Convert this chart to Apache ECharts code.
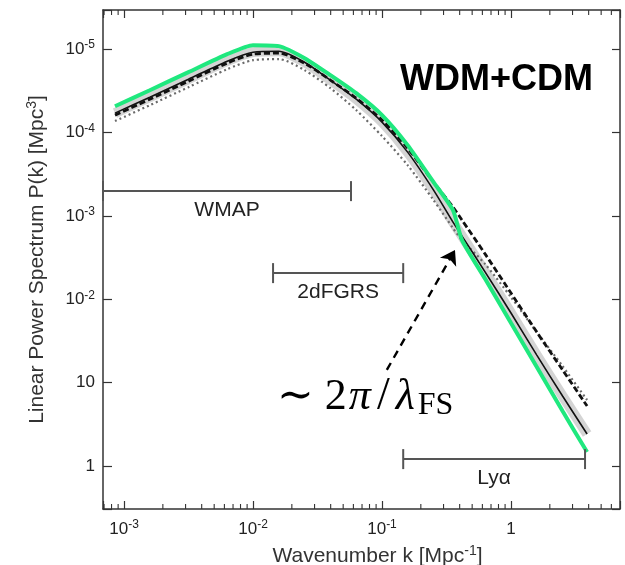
<!DOCTYPE html>
<html>
<head>
<meta charset="utf-8">
<script src="https://cdn.jsdelivr.net/npm/echarts@6/dist/echarts.min.js"></script>
<style>
  html, body { margin: 0; padding: 0; background: #fff; }
  #chart { width: 625px; height: 565px; }
</style>
</head>
<body>
<div id="chart"></div>
<script>
// Wavenumbers k [Mpc^-1] at which every curve is sampled
const kValues = [8.51e-4, 1.585e-3, 3.16e-3, 6.31e-3, 0.01, 0.01585, 0.0251, 0.0398, 0.0631, 0.1,
                 0.158, 0.251, 0.355, 0.417, 0.631, 1, 1.585, 2.51, 3.89];

// Linear power spectra P(k) [Mpc^3]
const pWdmCdm = [20700, 32200, 53000, 87100, 111700, 108700, 78000, 48800, 29700, 16200,
                 7060, 2540, 1174, 513, 175, 51.8, 15.4, 4.56, 1.47];
const pSolid  = [17100, 26550, 43650, 71800, 92000, 94600, 69800, 42500, 25100, 13330,
                 5820, 2040, 843, 573, 212, 68.4, 21.4, 6.91, 2.42];
const pDashed = [16170, 25100, 41300, 67900, 87100, 89500, 67900, 42500, 25800, 14090,
                 6500, 2541, 1276, 891, 348, 118.6, 40.4, 14.2, 5.24];
const pDotted = [13710, 21300, 35000, 57500, 73800, 75900, 56000, 34100, 18570, 9060,
                 4060, 1546, 714, 513, 264, 106, 40.4, 15.8, 6.19];

// Axis ranges
const xMin = 6.87e-4, xMax = 7.0;
const yMin = 0.305, yMax = 2.95e5;

// Tick labels
const xLabelValues = [1e-3, 1e-2, 1e-1, 1];
const xLabelTexts  = ['10{s|-3}', '10{s|-2}', '10{s|-1}', '1'];
const yLabelValues = [1, 10, 100, 1e3, 1e4, 1e5];
const yLabelTexts  = ['1', '10', '10{s|-2}', '10{s|-3}', '10{s|-4}', '10{s|-5}'];
const xMinorTicks = [7e-4, 8e-4, 9e-4,
  2e-3, 3e-3, 4e-3, 5e-3, 6e-3, 7e-3, 8e-3, 9e-3,
  0.02, 0.03, 0.04, 0.05, 0.06, 0.07, 0.08, 0.09,
  0.2, 0.3, 0.4, 0.5, 0.6, 0.7, 0.8, 0.9,
  2, 3, 4, 5, 6];

// Survey coverage ranges in k and the level at which each bar is drawn
const surveyNames = ['WMAP', '2dFGRS', 'Lyα'];
const surveyFrom  = [6.87e-4, 0.0143, 0.146];
const surveyTo    = [0.0575, 0.146, 3.75];
const surveyLevel = [1983, 206, 1.21];

// Free-streaming scale arrow (tail, head) in [k, P]
const arrowTail = [0.109, 14.2];
const arrowHead = [0.368, 389];

const FONT = "'Liberation Sans', Arial, Helvetica, sans-serif";
const SERIF = "'Liberation Serif', 'DejaVu Serif', serif";

function pickLabel(values, texts) {
  return function (v) {
    for (let i = 0; i < values.length; i++) {
      if (Math.abs(Math.log10(v) - Math.log10(values[i])) < 1e-3) return texts[i];
    }
    return '';
  };
}

const supRich = { s: { fontSize: 12, verticalAlign: 'top', lineHeight: 12, fontFamily: FONT, color: '#222' } };
const nameSupRich = { s: { fontSize: 14, verticalAlign: 'top', lineHeight: 14, fontFamily: FONT, color: '#333' } };

function curve(ps) {
  return kValues.map((k, i) => [k, ps[i]]);
}

const chart = echarts.init(document.getElementById('chart'), null, { renderer: 'canvas' });

const axisLineStyle = { color: '#333', width: 1.5 };
const majorTick = { inside: true, length: 8, lineStyle: { color: '#333', width: 1.2 } };

chart.setOption({
  animation: false,
  backgroundColor: '#fff',
  grid: { left: 103, right: 5, top: 10, bottom: 56, outerBoundsMode: 'none', containLabel: false },
  title: {
    text: 'WDM+CDM', left: 395, top: 57,
    textStyle: { fontFamily: FONT, fontWeight: 'bold', fontSize: 36, color: '#000' }
  },
  xAxis: [{
    type: 'log', logBase: 10, min: xMin, max: xMax, position: 'bottom',
    axisLine: { lineStyle: axisLineStyle },
    axisTick: majorTick,
    axisLabel: {
      formatter: pickLabel(xLabelValues, xLabelTexts), margin: 10,
      fontFamily: FONT, fontSize: 17, lineHeight: 20, color: '#222', rich: supRich
    },
    splitLine: { show: false },
    name: 'Wavenumber k [Mpc{s|-1}]', nameLocation: 'middle', nameGap: 27,
    nameTextStyle: { fontFamily: FONT, fontSize: 21, lineHeight: 24, color: '#333',
      padding: [0, 0, 0, 32], rich: nameSupRich }
  }, {
    type: 'log', logBase: 10, min: xMin, max: xMax, position: 'top',
    axisLine: { lineStyle: axisLineStyle },
    axisTick: majorTick,
    axisLabel: { show: false },
    splitLine: { show: false }
  }],
  yAxis: [{
    type: 'log', logBase: 10, min: yMin, max: yMax, position: 'left',
    axisLine: { lineStyle: axisLineStyle },
    axisTick: { inside: true, length: 9, lineStyle: { color: '#333', width: 1.2 } },
    axisLabel: {
      formatter: pickLabel(yLabelValues, yLabelTexts), margin: 8,
      fontFamily: FONT, fontSize: 17, lineHeight: 20, color: '#222', rich: supRich
    },
    splitLine: { show: false },
    name: 'Linear Power Spectrum P(k) [Mpc{s|3}]', nameLocation: 'middle', nameGap: 54,
    nameTextStyle: { fontFamily: FONT, fontSize: 21, lineHeight: 24, color: '#333', rich: nameSupRich }
  }, {
    type: 'log', logBase: 10, min: yMin, max: yMax, position: 'right',
    axisLine: { lineStyle: axisLineStyle },
    axisTick: majorTick,
    axisLabel: { show: false },
    splitLine: { show: false }
  }],
  series: [
    {
      name: 'band', type: 'line', data: curve(pSolid), showSymbol: false, smooth: 0.25,
      lineStyle: { width: 10, color: 'rgba(120,120,120,0.32)' }, z: 1
    },
    {
      name: 'dotted', type: 'line', data: curve(pDotted), showSymbol: false, smooth: 0.25,
      lineStyle: { width: 2.2, type: [2, 3], color: '#6a6a6a' }, z: 2
    },
    {
      name: 'dashed', type: 'line', data: curve(pDashed), showSymbol: false, smooth: 0.25,
      lineStyle: { width: 2.8, type: [6, 3], color: '#111' }, z: 3
    },
    {
      name: 'solid', type: 'line', data: curve(pSolid), showSymbol: false, smooth: 0.25,
      lineStyle: { width: 1.6, color: '#111' }, z: 4
    },
    {
      name: 'WDM+CDM', type: 'line', data: curve(pWdmCdm), showSymbol: false, smooth: 0.2,
      lineStyle: { width: 4, color: '#1fe87e' }, z: 5
    },
    {
      // survey ranges: horizontal bar with end caps and the survey name underneath
      name: 'surveys', type: 'custom', z: 6,
      data: surveyNames.map((n, i) => [surveyFrom[i], surveyTo[i], surveyLevel[i]]),
      encode: { x: [0, 1], y: 2 },
      renderItem: function (params, api) {
        const a = api.coord([api.value(0), api.value(2)]);
        const b = api.coord([api.value(1), api.value(2)]);
        const st = { stroke: '#555', lineWidth: 2 };
        return {
          type: 'group',
          children: [
            { type: 'line', shape: { x1: a[0], y1: a[1], x2: b[0], y2: b[1] }, style: st },
            { type: 'line', shape: { x1: a[0], y1: a[1] - 10, x2: a[0], y2: a[1] + 10 }, style: st },
            { type: 'line', shape: { x1: b[0], y1: b[1] - 10, x2: b[0], y2: b[1] + 10 }, style: st },
            { type: 'text', x: (a[0] + b[0]) / 2, y: a[1] + 19,
              style: { text: surveyNames[params.dataIndex], fontFamily: FONT, fontSize: 21,
                       fill: '#222', align: 'center', verticalAlign: 'middle' } }
          ]
        };
      }
    },
    {
      // minor decade ticks on the bottom and top frame
      name: 'minorTicks', type: 'custom', z: 7, silent: true,
      data: xMinorTicks.map(k => [k, yMin]),
      renderItem: function (params, api) {
        const p = api.coord([api.value(0), api.value(1)]);
        const cs = params.coordSys;
        const st = { stroke: '#333', lineWidth: 1.1 };
        return {
          type: 'group',
          children: [
            { type: 'line', shape: { x1: p[0], y1: cs.y + cs.height, x2: p[0], y2: cs.y + cs.height - 5 }, style: st },
            { type: 'line', shape: { x1: p[0], y1: cs.y, x2: p[0], y2: cs.y + 5 }, style: st }
          ]
        };
      }
    },
    {
      name: 'arrow', type: 'lines', coordinateSystem: 'cartesian2d', z: 8,
      symbol: ['none', 'arrow'], symbolSize: 14,
      lineStyle: { color: '#000', width: 2.4, type: [8, 6], opacity: 1 },
      data: [{ coords: [arrowTail, arrowHead] }]
    }
  ],
  graphic: [{
    type: 'text', left: 277, top: 374, z: 100,
    style: {
      text: '{t|∼}{r|2}{i|π}{s|/}{l|λ}{sub|FS}',
      rich: {
        t: { fontFamily: SERIF, fontSize: 44, lineHeight: 50, fill: '#000', padding: [0, 11, 0, 0] },
        r: { fontFamily: SERIF, fontSize: 44, lineHeight: 50, fill: '#000', padding: [0, 1, 0, 0] },
        i: { fontFamily: SERIF, fontSize: 44, lineHeight: 50, fontStyle: 'italic', fill: '#000', padding: [0, 3, 0, 1] },
        s: { fontFamily: SERIF, fontSize: 46, lineHeight: 50, fill: '#000', padding: [0, 4, 0, 3] },
        l: { fontFamily: SERIF, fontSize: 44, lineHeight: 50, fontStyle: 'italic', fill: '#000', padding: [0, 3, 0, 2] },
        sub: { fontFamily: SERIF, fontSize: 32, lineHeight: 28, verticalAlign: 'bottom', fill: '#000' }
      }
    }
  }]
});
</script>
</body>
</html>
